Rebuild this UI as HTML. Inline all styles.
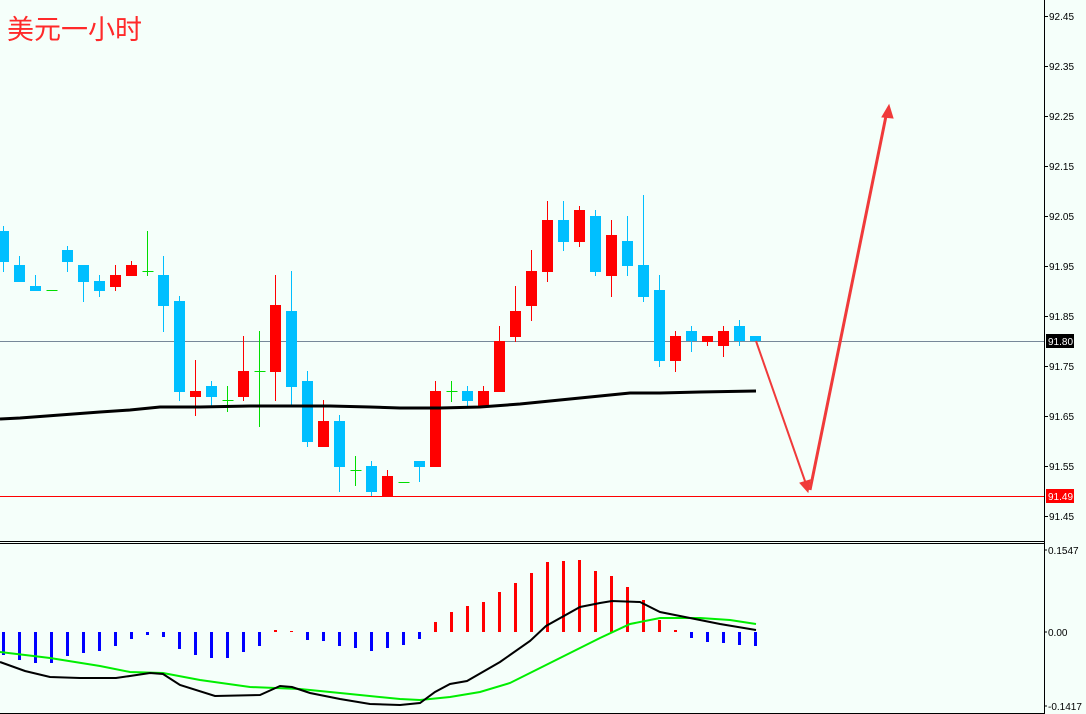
<!DOCTYPE html>
<html><head><meta charset="utf-8"><style>
html,body{margin:0;padding:0;background:#f5fffa;}
svg{display:block;}
text{font-family:"Liberation Sans",sans-serif;font-size:10px;}
</style></head><body>
<svg width="1086" height="714" viewBox="0 0 1086 714" xmlns="http://www.w3.org/2000/svg">
<rect width="1086" height="714" fill="#f5fffa"/>
<text x="7" y="39" fill="#ff2a2a" style="font-family:'Liberation Sans','Noto Sans CJK SC',sans-serif;font-size:27px">美元一小时</text>
<line x1="0" y1="341.5" x2="1044" y2="341.5" stroke="#778899" stroke-width="1"/>
<line x1="0" y1="496.5" x2="1044" y2="496.5" stroke="#ff0000" stroke-width="1"/>
<g id="candles"></g>
<polyline fill="none" stroke="#000" stroke-width="3" points="0,419 20,418 60,415 100,412 130,410 160,407 200,407 250,406 330,406 370,407 400,408 440,408 480,407 520,404 560,400 600,396 630,393 660,393 700,392 756,391"/>
<g stroke="#f03a3a" fill="#f03a3a">
<line x1="756" y1="341" x2="806" y2="484" stroke-width="2"/>
<polygon points="808,492 800,483 810,480"/>
<line x1="810" y1="490" x2="886" y2="116" stroke-width="3"/>
<polygon points="889,105 882,117 893,118"/>
</g>
<g id="hist"></g>
<polyline fill="none" stroke="#00ee00" stroke-width="2" points="0,652 50,658 100,666 130,672 163,673 200,680 250,687 300,689 350,694 400,699 420,700 450,697 480,692 510,683 540,668 570,653 600,638 630,624 660,618 700,618 730,620 756,624"/>
<polyline fill="none" stroke="#000" stroke-width="2" points="0,662 25,671 50,677 80,678 116,678 130,676 150,673 163,674 180,685 215,696 260,695 280,686 292,687 310,693 340,699 370,704 400,705 420,703 435,692 450,684 467,681 500,662 530,641 546,626 580,607 600,603 612,601 640,602 660,612 690,618 720,624 756,630"/>
<line x1="0" y1="541.5" x2="1044" y2="541.5" stroke="#000"/>
<line x1="0" y1="543.5" x2="1044" y2="543.5" stroke="#000"/>
<line x1="0" y1="713.5" x2="1044" y2="713.5" stroke="#000"/>
<line x1="1044.5" y1="0" x2="1044.5" y2="714" stroke="#000"/>
<g id="axis"></g>
<rect x="1046" y="334" width="28" height="14" fill="#000"/>
<text x="1048" y="345" fill="#fff">91.80</text>
<rect x="1046" y="489" width="28" height="14" fill="#ff0000"/>
<text x="1048" y="500" fill="#fff">91.49</text>
<text x="1048" y="554" fill="#000">0.1547</text>
<text x="1048" y="636" fill="#000">0.00</text>
<text x="1048" y="710" fill="#000">-0.1417</text>
<line x1="1044" y1="550" x2="1047" y2="550" stroke="#000"/>
<line x1="1044" y1="632" x2="1047" y2="632" stroke="#000"/>
<line x1="1044" y1="706" x2="1047" y2="706" stroke="#000"/>
</svg>
<script>
var NS="http://www.w3.org/2000/svg";
function el(p,t,a){var e=document.createElementNS(NS,t);for(var k in a)e.setAttribute(k,a[k]);p.appendChild(e);return e;}
var C=[["b",231,262,226,272],["b",265,282,256,282],["b",286,291,275,291],["g",290,290,290,290],["b",250,262,246,272],["b",265,282,265,302],["b",281,291,275,297],["r",275,287,265,291],["r",265,276,261,276],["g",271,271,231,276],["b",275,306,256,332],["b",301,392,296,401],["r",391,397,360,416],["b",386,397,381,406],["g",400,400,386,412],["r",371,397,336,401],["g",371,371,331,427],["r",305,372,275,401],["b",311,387,271,407],["b",381,442,371,447],["r",421,447,400,447],["b",421,467,415,492],["g",470,470,456,486],["b",466,492,461,496],["r",476,496,470,496],["g",482,482,482,482],["b",461,467,461,482],["r",391,467,381,467],["g",391,391,381,402],["b",391,401,386,406],["r",391,407,386,407],["r",341,392,326,392],["r",311,337,286,342],["r",271,306,250,321],["r",220,272,201,282],["b",220,242,201,251],["r",210,242,206,247],["b",216,272,210,276],["r",235,276,220,297],["b",241,266,216,276],["b",265,297,195,302],["b",290,361,275,367],["r",336,361,331,372],["b",331,341,326,352],["r",336,342,336,346],["r",331,346,326,357],["b",326,341,320,346],["b",336,341,336,341]];
var g=document.getElementById("candles");
C.forEach(function(c,i){var x=3.5+16*i;var col=c[0]=="b"?"#00bfff":c[0]=="r"?"#ff0000":"#00dd00";
if(c[4]>c[3])el(g,"line",{x1:x,x2:x,y1:c[3],y2:c[4],stroke:col,"stroke-width":1});
if(c[0]=="g")el(g,"line",{x1:x-5,x2:x+6,y1:c[1]+0.5,y2:c[1]+0.5,stroke:col,"stroke-width":1});
else el(g,"rect",{x:x-5.5,y:c[1],width:11,height:Math.max(c[2]-c[1],5),fill:col});});
var H=[655,660,663,663,656,653,651,646,639,635,637,649,655,658,658,652,646,630,631,640,641,646,648,651,648,645,639,622,612,606,602,592,583,573,562,561,560,571,576,587,600,620,630,638,642,643,645,646];
var h=document.getElementById("hist");
H.forEach(function(y,i){var x=2+16*i;var top,ht,col;if(y>632){top=632;ht=y-632;col="#0000ff";}else{top=y;ht=Math.max(632-y,1);col="#ff0000";}
el(h,"rect",{x:x,y:top,width:3,height:ht,fill:col});});
var a=document.getElementById("axis");
for(var k=0;k<11;k++){var y=16+50*k;el(a,"line",{x1:1044,x2:1048,y1:y+0.5,y2:y+0.5,stroke:"#000"});
var t=el(a,"text",{x:1049,y:y+4,fill:"#000"});t.textContent=(92.45-0.1*k).toFixed(2);}
</script>
</body></html>
